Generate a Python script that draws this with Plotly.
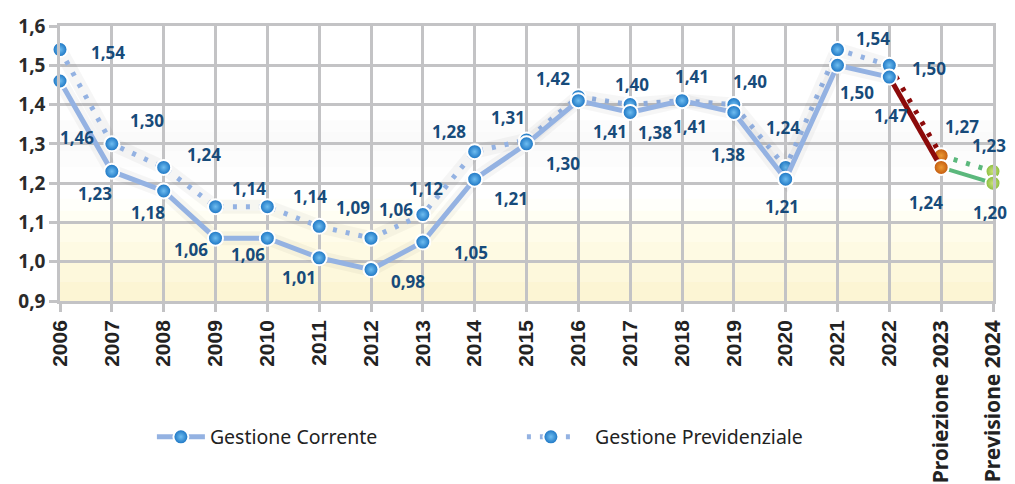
import plotly.graph_objects as go

# ---------------- data ----------------
years = list(range(2006, 2025))
tick_labels = [str(y) for y in range(2006, 2023)] + ["Proiezione 2023", "Previsione 2024"]
corrente = [1.46, 1.23, 1.18, 1.06, 1.06, 1.01, 0.98, 1.05, 1.21, 1.30, 1.41, 1.38, 1.41, 1.38, 1.21, 1.50, 1.47, 1.24, 1.20]
previdenziale = [1.54, 1.30, 1.24, 1.14, 1.14, 1.09, 1.06, 1.12, 1.28, 1.31, 1.42, 1.40, 1.41, 1.40, 1.24, 1.54, 1.50, 1.27, 1.23]
series_names = ["Gestione Corrente", "Gestione Previdenziale"]

# label offsets in pixels (dx right, dy down) – layout only
corr_off = [(17, 56), (-17, 22), (-16, 21), (-25, 11), (-19, 16), (-20, 20), (37, 12), (48, 10), (36, 19),
            (36, 20), (32, 31), (25, 20), (8, 26), (-6, 42), (-4, 27), (19, 27), (2, 38), (-15, 35), (-3, 29)]
prev_off = [(48, 3), (35, -23), (40, -13), (33, -18), (43, -10), (34, -19), (25, -29), (3, -26), (-26, -20),
            (-19, -22), (-25, -18), (2, -20), (10, -24), (16, -23), (-3, -40), (35, -11), (40, 3), (21, -29), (-4, -26)]

LINE_BLUE = "#94b2e2"
RED = "#8c0a0a"
GREEN = "#5bb87c"
GRID = "#c3c3c5"
LABEL = "#174b7a"

def fmt(v):
    return f"{v:.2f}".replace(".", ",")

fig = go.Figure()

n_hist = 17  # 2006..2022

def add_series(vals, name, dash, width):
    fig.add_trace(go.Scatter(x=years[:n_hist], y=vals[:n_hist], mode="lines",
                             line=dict(color="rgba(0,0,0,0.035)", width=14), showlegend=False,
                             hoverinfo="skip", cliponaxis=False))
    fig.add_trace(go.Scatter(x=years[n_hist - 1:n_hist + 1], y=vals[n_hist - 1:n_hist + 1], mode="lines",
                             line=dict(color=RED, width=width, dash=dash), showlegend=False, cliponaxis=False))
    fig.add_trace(go.Scatter(x=years[n_hist:], y=vals[n_hist:], mode="lines",
                             line=dict(color=GREEN, width=width - 1 if dash == "solid" else width, dash=dash),
                             showlegend=False, cliponaxis=False))
    fig.add_trace(go.Scatter(x=years[:n_hist], y=vals[:n_hist], mode="lines+markers", name=name,
                             line=dict(color=LINE_BLUE, width=width, dash=dash),
                             marker=dict(size=15, color="#1670c0",
                                         gradient=dict(type="radial", color="#6fbdf0"),
                                         line=dict(color="white", width=2)),
                             cliponaxis=False))
    fig.add_trace(go.Scatter(x=years[n_hist:n_hist + 1], y=vals[n_hist:n_hist + 1], mode="markers",
                             marker=dict(size=15, color="#c0560c",
                                         gradient=dict(type="radial", color="#ec9a34"),
                                         line=dict(color="white", width=2)),
                             showlegend=False, cliponaxis=False))
    fig.add_trace(go.Scatter(x=years[n_hist + 1:], y=vals[n_hist + 1:], mode="markers",
                             marker=dict(size=15, color="#86bb3c",
                                         gradient=dict(type="radial", color="#cde27a"),
                                         line=dict(color="white", width=2)),
                             showlegend=False, cliponaxis=False))

add_series(previdenziale, "&nbsp;&nbsp;&nbsp;" + series_names[1], "4px,9px", 5)
add_series(corrente, series_names[0], "solid", 5)

annotations = []
for yr, v, (dx, dy) in zip(years, corrente, corr_off):
    annotations.append(dict(x=yr, y=v, xref="x", yref="y", text=fmt(v), showarrow=False,
                            xshift=dx, yshift=-dy,
                            font=dict(family="Noto Sans", size=17, color=LABEL, weight="bold")))
for yr, v, (dx, dy) in zip(years, previdenziale, prev_off):
    annotations.append(dict(x=yr, y=v, xref="x", yref="y", text=fmt(v), showarrow=False,
                            xshift=dx, yshift=-dy,
                            font=dict(family="Noto Sans", size=17, color=LABEL, weight="bold")))

# background bands (white -> soft gray shadow -> pale yellow)
shapes = []
bands = [
    (1.36, 1.33, "rgba(0,0,0,0.010)"),
    (1.33, 1.28, "rgba(0,0,0,0.020)"),
    (1.28, 1.24, "rgba(0,0,0,0.012)"),
    (1.24, 1.20, "rgba(0,0,0,0.005)"),
    (1.16, 1.13, "#fffffa"),
    (1.13, 1.10, "#fffef3"),
    (1.10, 1.05, "#fffcea"),
    (1.05, 1.00, "#fefae3"),
    (1.00, 0.95, "#fdf8dc"),
    (0.95, 0.90, "#fcf5d4"),
]
for y0, y1, c in bands:
    shapes.append(dict(type="rect", xref="paper", x0=0, x1=1, yref="y", y0=y1, y1=y0,
                       fillcolor=c, line=dict(width=0), layer="below"))

# tick text: years heavy, projection labels in another face
tick_text = [f"<b>{t}</b>" if t.isdigit() else
             f'<span style="font-family:Noto Sans;font-size:21px;font-weight:bold">{t}</span>' for t in tick_labels]

# the page body adds an 8px offset; margins compensate for it
fig.update_layout(
    width=1015, height=484,
    margin=dict(l=52, r=30, t=18, b=191),
    paper_bgcolor="white", plot_bgcolor="white",
    annotations=annotations, shapes=shapes,
    separators=",.",
    showlegend=True,
    legend=dict(orientation="h", x=0.0985, xanchor="left", y=-0.495, yanchor="middle",
                traceorder="reversed",
                font=dict(family="Noto Sans", size=19.5, color="#222"),
                entrywidth=307, entrywidthmode="pixels", itemwidth=48,
                bgcolor="rgba(0,0,0,0)"),
    xaxis=dict(range=[2006, 2024], tickmode="array", tickvals=years, ticktext=tick_text,
               tickangle=-90, showgrid=True, gridcolor=GRID, gridwidth=2.5,
               showline=True, linecolor=GRID, linewidth=2.5, mirror=True,
               ticks="outside", ticklen=8, tickwidth=2.5, tickcolor=GRID, automargin=False,
               tickfont=dict(family="Liberation Sans", size=21, color="#222"),
               zeroline=False),
    yaxis=dict(range=[0.9, 1.6], tickmode="array", tickvals=[0.9, 1.0, 1.1, 1.2, 1.3, 1.4, 1.5, 1.6],
               tickformat=".1f", showgrid=True, gridcolor=GRID, gridwidth=2.5,
               showline=True, linecolor=GRID, linewidth=2.5, mirror=True,
               ticks="outside", ticklen=8, tickwidth=2.5, tickcolor=GRID, automargin=False,
               tickfont=dict(family="Noto Sans", size=19, color="#2a2a2a", weight="bold"),
               zeroline=False),
)

fig.write_html("out.html")
